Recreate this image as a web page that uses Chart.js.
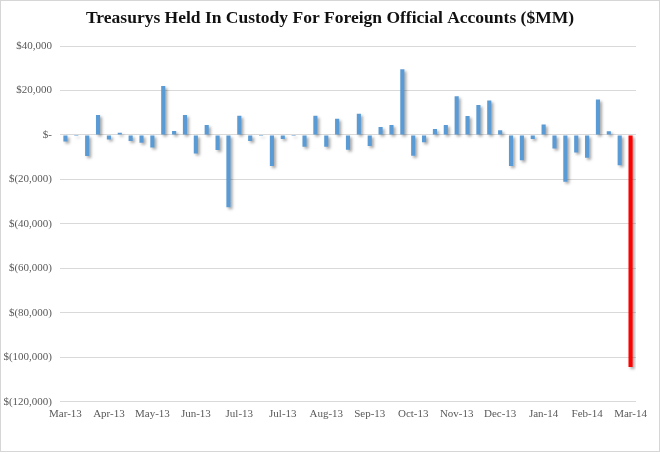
<!DOCTYPE html>
<html>
<head>
<meta charset="utf-8">
<script src="https://cdn.jsdelivr.net/npm/chart.js@4"></script>
<style>
  html, body { margin: 0; padding: 0; background: #fff; }
  canvas { display: block; }
</style>
</head>
<body>
<canvas id="c" width="660" height="454"></canvas>
<script>
const chartTitle = 'Treasurys Held In Custody For Foreign Official Accounts ($MM)';
const tickLabels = ['Mar-13','Apr-13','May-13','Jun-13','Jul-13','Jul-13','Aug-13','Sep-13','Oct-13','Nov-13','Dec-13','Jan-14','Feb-14','Mar-14'];
const weeklyChange = [
  -3000, -500, -9500, 9000, -2000, 1000, -2700, -3500, -5600, 22000,
  1800, 9000, -8300, 4500, -6800, -32500, 8600, -2700, -500, -14000,
  -1800, -500, -5300, 8600, -5300, 7300, -6600, 9500, -5000, 3600,
  4500, 29500, -9400, -3300, 2700, 4500, 17400, 8500, 13500, 15500,
  2100, -14000, -11400, -1800, 4700, -6100, -21000, -7900, -10300, 15900,
  1700, -13600, -104400
];
const yMin = -120000, yMax = 40000, yStep = 20000;
const labelEvery = 4;

const categories = weeklyChange.map((_, i) => i % labelEvery === 0 ? tickLabels[i / labelEvery] : '');
const barColors = weeklyChange.map((_, i) => i === weeklyChange.length - 1 ? '#FF0000' : '#5B9BD5');

function fmtMoney(v) {
  if (v === 0) return '$-';
  const s = Math.abs(v).toLocaleString('en-US');
  return v < 0 ? '$(' + s + ')' : '$' + s;
}

const shadowPlugin = {
  id: 'barShadow',
  beforeDatasetsDraw(chart) {
    const ctx = chart.ctx;
    ctx.save();
    ctx.shadowColor = 'rgba(0,0,0,0.35)';
    ctx.shadowBlur = 3;
    ctx.shadowOffsetX = 2;
    ctx.shadowOffsetY = 2;
  },
  afterDatasetsDraw(chart) {
    chart.ctx.restore();
  }
};

const framePlugin = {
  id: 'frame',
  afterDraw(chart) {
    const ctx = chart.ctx;
    ctx.save();
    ctx.strokeStyle = '#d6d6d6';
    ctx.lineWidth = 1;
    ctx.strokeRect(0.5, 0.5, chart.width - 1, chart.height - 3);
    // title, centred on the full page width
    ctx.fillStyle = '#111';
    ctx.font = 'bold 17.5px "Liberation Serif", serif';
    ctx.textAlign = 'center';
    ctx.textBaseline = 'middle';
    ctx.fillText(chartTitle, 330, 18);
    ctx.restore();
  }
};

new Chart(document.getElementById('c'), {
  type: 'bar',
  data: {
    labels: categories,
    datasets: [{
      data: weeklyChange,
      backgroundColor: barColors,
      borderWidth: 0,
      categoryPercentage: 1,
      barPercentage: 0.38
    }]
  },
  options: {
    responsive: false,
    animation: false,
    devicePixelRatio: 1,
    layout: { padding: { left: 0, right: 24, top: 46, bottom: 27 } },
    plugins: {
      legend: { display: false },
      tooltip: { enabled: false },
      title: { display: false }
    },
    scales: {
      x: {
        grid: { display: false, drawTicks: false },
        border: { display: false },
        ticks: {
          autoSkip: false,
          maxRotation: 0,
          padding: 6,
          color: '#595959',
          font: { family: '"Liberation Serif", serif', size: 11 }
        }
      },
      y: {
        min: yMin,
        max: yMax,
        afterFit(scale) { scale.width = 60; },
        grid: { color: '#d9d9d9', lineWidth: 1, drawTicks: false },
        border: { display: false },
        ticks: {
          stepSize: yStep,
          padding: 8,
          color: '#595959',
          font: { family: '"Liberation Serif", serif', size: 11 },
          callback: (v) => fmtMoney(v)
        }
      }
    }
  },
  plugins: [shadowPlugin, framePlugin]
});
</script>
</body>
</html>
